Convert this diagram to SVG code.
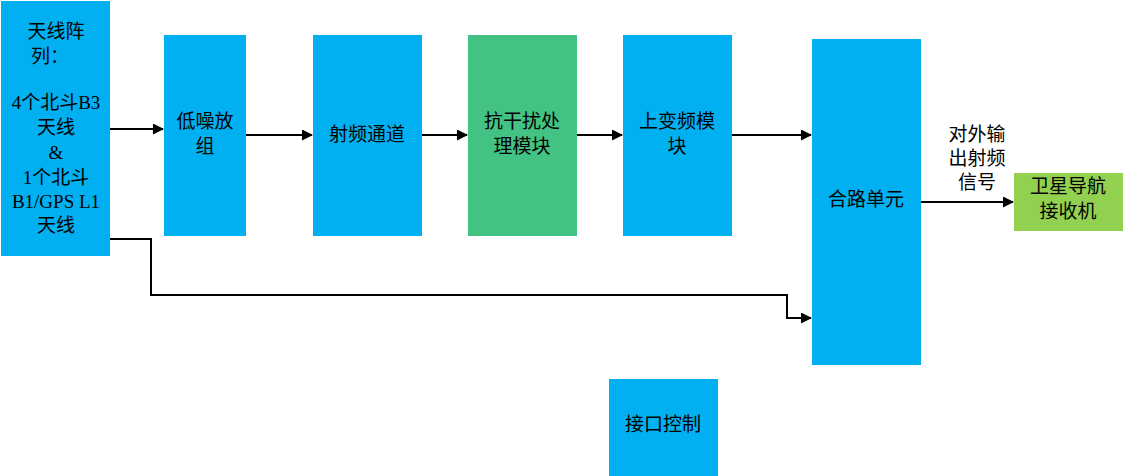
<svg xmlns="http://www.w3.org/2000/svg" width="1124" height="476" viewBox="0 0 1124 476">
<defs>
<style>
.b{fill:#00B0F0}
.g{fill:#43C383}
.lg{fill:#92D050}
text{font-family:"Liberation Serif","Noto Sans CJK SC",serif;font-size:19px;fill:#000;text-anchor:middle}
.c{fill:none;stroke:#000;stroke-width:2}
</style>
<marker id="ah" markerWidth="11" markerHeight="11" refX="10" refY="5.5" orient="auto" markerUnits="userSpaceOnUse">
<path d="M0,0 L11,5.5 L0,11 Z" fill="#000"/>
</marker>
</defs>
<rect width="1124" height="476" fill="#fff"/>
<g id="connectors">
<path class="c" d="M110,129 H163" marker-end="url(#ah)"/>
<path class="c" d="M246,135 H312" marker-end="url(#ah)"/>
<path class="c" d="M422,135 H467" marker-end="url(#ah)"/>
<path class="c" d="M577,135 H622" marker-end="url(#ah)"/>
<path class="c" d="M732,135 H811" marker-end="url(#ah)"/>
<path class="c" d="M921,202 H1013" marker-end="url(#ah)"/>
<path class="c" d="M110,239 H151 V295 H787 V318 H811" marker-end="url(#ah)"/>
<text x="977" y="141">对外输</text>
<text x="977" y="165">出射频</text>
<text x="977" y="189">信号</text>
</g>
<g id="antenna">
<rect class="b" x="1" y="1" width="109" height="255"/>
<text x="56" y="38">天线阵</text>
<text x="50" y="63">列：</text>
<text x="56" y="109">4个北斗B3</text>
<text x="56" y="134">天线</text>
<text x="56" y="159">&amp;</text>
<text x="56" y="184">1个北斗</text>
<text x="56" y="208">B1/GPS L1</text>
<text x="56" y="232">天线</text>
</g>
<g id="lna">
<rect class="b" x="164" y="35" width="82" height="201"/>
<text x="205" y="128">低噪放</text>
<text x="205" y="153">组</text>
</g>
<g id="rf">
<rect class="b" x="313" y="35" width="109" height="201"/>
<text x="367" y="141">射频通道</text>
</g>
<g id="antijam">
<rect class="g" x="468" y="35" width="109" height="201"/>
<text x="522" y="128">抗干扰处</text>
<text x="522" y="153">理模块</text>
</g>
<g id="upconv">
<rect class="b" x="623" y="35" width="109" height="201"/>
<text x="677" y="128">上变频模</text>
<text x="677" y="153">块</text>
</g>
<g id="combiner">
<rect class="b" x="812" y="39" width="109" height="326"/>
<text x="866" y="206">合路单元</text>
</g>
<g id="receiver">
<rect class="lg" x="1014" y="173" width="109" height="58"/>
<text x="1068" y="193">卫星导航</text>
<text x="1068" y="218">接收机</text>
</g>
<g id="interface">
<rect class="b" x="609" y="379" width="109" height="97"/>
<text x="663" y="431">接口控制</text>
</g>
</svg>
